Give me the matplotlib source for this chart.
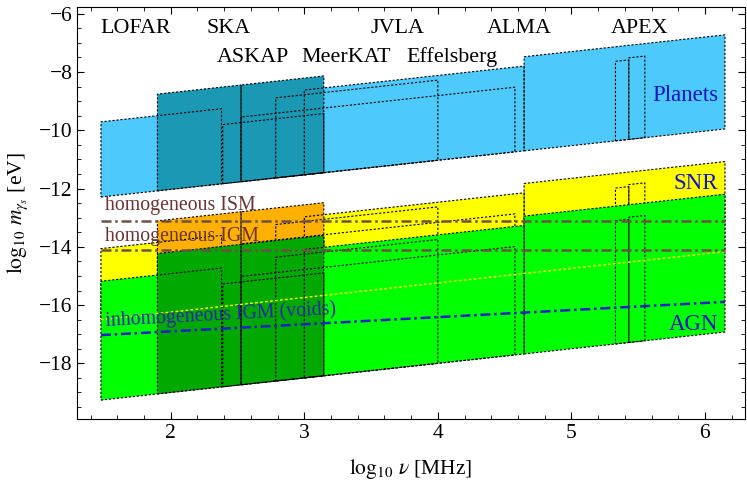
import numpy as np
import matplotlib.pyplot as plt
from matplotlib.ticker import MultipleLocator

plt.rcParams['font.family'] = ['Liberation Serif', 'DejaVu Serif']
plt.rcParams['mathtext.fontset'] = 'stix'

# %% DATA
# all bands are straight strips with slope 1/2 in log-log
slope = 0.5
x_left, x_right = 1.477, 6.15

band_names = ["Planets", "SNR", "AGN"]
band_bottom = [-13.03, -17.24, -20.0]     # lower edge at log10 nu = 0
band_top = [-13.03, -17.38, -18.50]       # reference for upper edges
band_light = ["#4dc9fb", "#ffff00", "#00ff00"]
band_dark = ["#1a98b4", "#ffb000", "#00a800"]
band_label_y = [-8.80, -11.82, -16.66]

# telescope frequency ranges (log10 MHz) and heights of their strips
tel_lo = [1.477, 1.90, 2.526, 2.389, 2.786, 2.526, 3.00, 4.646, 5.33, 5.43]
tel_hi = [2.380, 2.526, 3.146, 3.146, 4.00, 4.577, 4.646, 6.15, 5.43, 5.55]
tel_h = [2.58, 3.32, 3.32, 2.03, 2.75, 2.22, 2.91, 3.23, 2.73, 2.80]
tel_dark = [False, True, True, False, False, False, False, False, False, False]

names_row1 = ["LOFAR", "SKA", "JVLA", "ALMA", "APEX"]
names_row1_x = [1.74, 2.43, 3.70, 4.61, 5.51]
names_row2 = ["ASKAP", "MeerKAT", "Effelsberg"]
names_row2_x = [2.615, 3.313, 4.107]

ism_y = -13.10
igm_y = -14.10
voids_x = [1.477, 6.15]
voids_y = [-17.03, -15.89]

# %% PLOTTING
fig = plt.figure(figsize=(7.47, 4.83), dpi=100)
ax = fig.add_axes([0.1035, 0.1319, 0.8938, 0.8530])

dot = (0, (2, 1.6))


def strip(i, j):
    lo, hi, h = tel_lo[j], tel_hi[j], tel_h[j]
    xs = [lo, hi, hi, lo]
    ys = [band_bottom[i] + slope * lo, band_bottom[i] + slope * hi,
          band_top[i] + slope * hi + h, band_top[i] + slope * lo + h]
    return xs, ys


for i in range(len(band_names)):
    for dark in [False, True]:
        for j in range(len(tel_lo)):
            if tel_dark[j] != dark:
                continue
            xs, ys = strip(i, j)
            ax.fill(xs, ys, color=band_dark[i] if dark else band_light[i],
                    lw=0, zorder=1 + i)
    for j in range(len(tel_lo)):
        xs, ys = strip(i, j)
        ax.plot(xs + xs[:1], ys + ys[:1], color="k", ls=dot, lw=0.8,
                zorder=1.5 + i)
    ax.text(6.10, band_label_y[i], band_names[i], color="#1414c0",
            fontsize=16.5, ha="right", va="center", zorder=10)

# lower edge of SNR strip inside the AGN strip
ax.plot([x_left, x_right],
        [band_bottom[1] + slope * x_left, band_bottom[1] + slope * x_right],
        color="#ffff00", ls=dot, lw=1.0, zorder=5)

# gas density lines
ax.plot([x_left, x_right], [ism_y, ism_y], color="#6e5048", lw=1.8,
        ls=(0, (4, 1.5, 1, 1.5)), zorder=6)
ax.plot([x_left, x_right], [igm_y, igm_y], color="#6e5048", lw=1.8,
        ls=(0, (4, 1.5, 1, 1.5)), zorder=6)
ax.plot(voids_x, voids_y, color="#2020c8", lw=1.8,
        ls=(0, (4, 1.5, 1, 1.5)), zorder=6)

ax.text(1.51, -12.58, "homogeneous ISM", color="#6b3535", fontsize=14.3,
        ha="left", va="center", zorder=10)
ax.text(1.51, -13.64, "homogeneous IGM", color="#6b3535", fontsize=14.3,
        ha="left", va="center", zorder=10)
ax.text(1.51, -16.55, "inhomogeneous IGM (voids)", color="#2a2aa8",
        fontsize=14.3, ha="left", va="center", rotation=3,
        rotation_mode="anchor", zorder=10)

for name, x in zip(names_row1, names_row1_x):
    ax.text(x, -6.51, name, fontsize=15.8, ha="center", va="center")
for name, x in zip(names_row2, names_row2_x):
    ax.text(x, -7.50, name, fontsize=15.8, ha="center", va="center")

ax.set_xlim(1.3, 6.3)
ax.set_ylim(-19.92, -5.78)
ax.xaxis.set_major_locator(MultipleLocator(1))
ax.xaxis.set_minor_locator(MultipleLocator(0.2))
ax.yaxis.set_major_locator(MultipleLocator(2))
ax.yaxis.set_minor_locator(MultipleLocator(0.5))
ax.tick_params(which="both", direction="in", top=True, right=True,
               labelsize=15.5)
ax.tick_params(which="major", length=5)
ax.tick_params(which="minor", length=3)
ax.set_xlabel(r"$\log_{10}\,\nu$ [MHz]", fontsize=15.5, labelpad=10)
ax.set_ylabel(r"$\log_{10}\,m_{\gamma_s}$ [eV]", fontsize=15.5, labelpad=6)

fig.savefig("out.png", dpi=100)
